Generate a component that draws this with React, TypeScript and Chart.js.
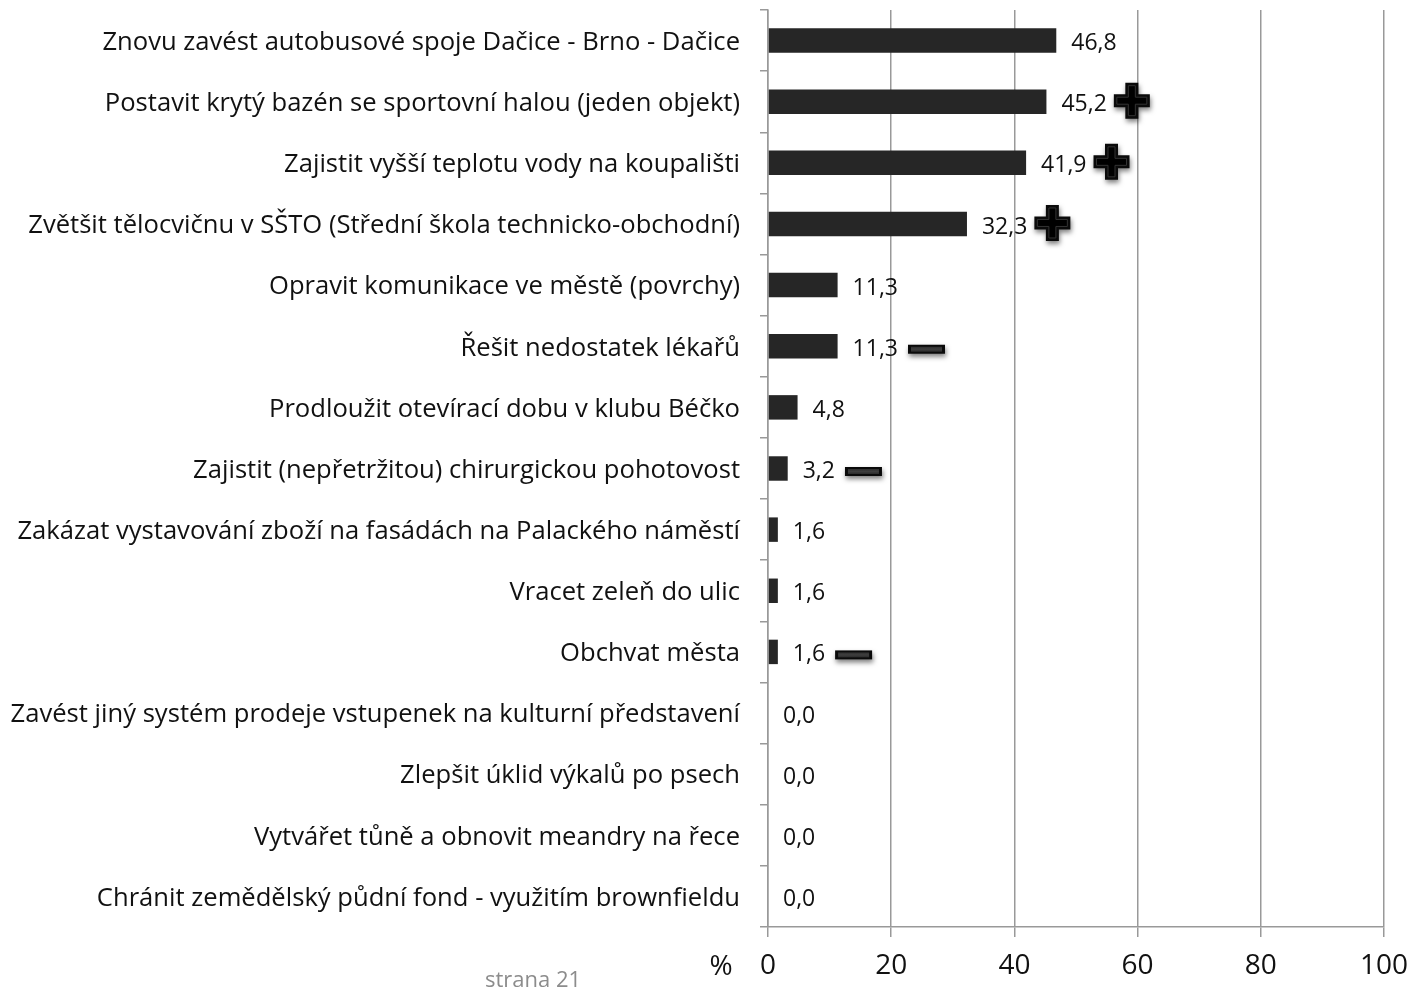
import React, { useEffect, useRef } from "react";
import { Chart, registerables } from "chart.js";

Chart.register(...registerables);

const categories: string[] = [
  "Znovu zavést autobusové spoje Dačice - Brno - Dačice",
  "Postavit krytý bazén se sportovní halou (jeden objekt)",
  "Zajistit vyšší teplotu vody na koupališti",
  "Zvětšit tělocvičnu v SŠTO (Střední škola technicko-obchodní)",
  "Opravit komunikace ve městě (povrchy)",
  "Řešit nedostatek lékařů",
  "Prodloužit otevírací dobu v klubu Béčko",
  "Zajistit (nepřetržitou) chirurgickou pohotovost",
  "Zakázat vystavování zboží na fasádách na Palackého náměstí",
  "Vracet zeleň do ulic",
  "Obchvat města",
  "Zavést jiný systém prodeje vstupenek na kulturní představení",
  "Zlepšit úklid výkalů po psech",
  "Vytvářet tůně a obnovit meandry na řece",
  "Chránit zemědělský půdní fond - využitím brownfieldu",
];

const values: number[] = [46.8, 45.2, 41.9, 32.3, 11.3, 11.3, 4.8, 3.2, 1.6, 1.6, 1.6, 0.0, 0.0, 0.0, 0.0];

const markers: string[] = ["", "+", "+", "+", "", "-", "", "-", "", "", "-", "", "", "", ""];

const xTicks: number[] = [0, 20, 40, 60, 80, 100];

const unitLabel = "%";
const footerText = "strana 21";

const FONT = "'Open Sans', Lato, sans-serif";

function drawPlus(ctx: CanvasRenderingContext2D, left: number, cy: number) {
  const s = 36;
  const a = 13;
  const x0 = left;
  const y0 = cy - s / 2;
  const p = (inset: number) => {
    const o = (s - a) / 2;
    const pts: [number, number][] = [
      [o + inset, inset], [o + a - inset, inset], [o + a - inset, o + inset], [s - inset, o + inset],
      [s - inset, o + a - inset], [o + a - inset, o + a - inset], [o + a - inset, s - inset], [o + inset, s - inset],
      [o + inset, o + a - inset], [inset, o + a - inset], [inset, o + inset], [o + inset, o + inset],
    ];
    ctx.beginPath();
    pts.forEach(([px, py], i) => (i === 0 ? ctx.moveTo(x0 + px, y0 + py) : ctx.lineTo(x0 + px, y0 + py)));
    ctx.closePath();
  };
  ctx.save();
  ctx.shadowColor = "rgba(0,0,0,0.5)";
  ctx.shadowBlur = 5;
  ctx.shadowOffsetX = 1;
  ctx.shadowOffsetY = 3;
  p(0);
  ctx.fillStyle = "#0a0a0a";
  ctx.fill();
  ctx.restore();
  ctx.save();
  p(3);
  ctx.fillStyle = "#000";
  ctx.fill();
  ctx.strokeStyle = "#333";
  ctx.lineWidth = 1;
  ctx.stroke();
  ctx.restore();
}

function drawMinus(ctx: CanvasRenderingContext2D, left: number, cy: number) {
  const w = 37;
  const h = 9;
  const y0 = cy - h / 2;
  ctx.save();
  ctx.shadowColor = "rgba(0,0,0,0.5)";
  ctx.shadowBlur = 5;
  ctx.shadowOffsetX = 1;
  ctx.shadowOffsetY = 3;
  ctx.fillStyle = "#0a0a0a";
  ctx.fillRect(left, y0, w, h);
  ctx.restore();
  ctx.save();
  const g = ctx.createLinearGradient(0, y0, 0, y0 + h);
  g.addColorStop(0, "#222");
  g.addColorStop(0.5, "#3e3e3e");
  g.addColorStop(1, "#1a1a1a");
  ctx.fillStyle = g;
  ctx.fillRect(left + 3, y0 + 2, w - 6, h - 4);
  ctx.restore();
}

const labelsPlugin = {
  id: "valueLabels",
  afterDatasetsDraw(chart: any) {
    const ctx: CanvasRenderingContext2D = chart.ctx;
    const meta = chart.getDatasetMeta(0);
    ctx.save();
    ctx.font = `23px ${FONT}`;
    ctx.fillStyle = "#111";
    ctx.textBaseline = "middle";
    ctx.textAlign = "left";
    meta.data.forEach((bar: any, i: number) => {
      const txt = values[i].toFixed(1).replace(".", ",");
      const x = bar.x + 15;
      ctx.fillText(txt, x, bar.y + 3);
      const w = ctx.measureText(txt).width;
      if (markers[i] === "+") drawPlus(ctx, x + w + 7, bar.y - 1);
      else if (markers[i] === "-") drawMinus(ctx, x + w + 10, bar.y + 3);
    });
    const xs = chart.scales.x;
    ctx.font = `28px ${FONT}`;
    ctx.textAlign = "center";
    ctx.fillStyle = "#111";
    ctx.fillText(unitLabel, xs.left - 47, 967);
    ctx.font = `22px ${FONT}`;
    ctx.fillStyle = "#8c8c8c";
    ctx.textBaseline = "alphabetic";
    ctx.fillText(footerText, 533, 987);
    ctx.restore();
  },
};

export default function App() {
  const ref = useRef<HTMLCanvasElement | null>(null);
  useEffect(() => {
    if (!ref.current) return;
    const chart = new Chart(ref.current, {
      type: "bar",
      data: {
        labels: categories,
        datasets: [
          {
            data: values,
            backgroundColor: "#262626",
            borderWidth: 0,
            barPercentage: 0.4,
            categoryPercentage: 1,
          },
        ],
      },
      options: {
        indexAxis: "y",
        animation: false,
        responsive: true,
        maintainAspectRatio: false,
        layout: { padding: { left: 0, right: 24, top: 10, bottom: 0 } },
        plugins: { legend: { display: false }, tooltip: { enabled: false } },
        scales: {
          x: {
            min: 0,
            max: 100,
            afterBuildTicks: (scale: any) => {
              scale.ticks = xTicks.map((v) => ({ value: v }));
            },
            afterFit: (scale: any) => {
              scale.height = 61;
              scale.paddingLeft = 0;
              scale.paddingRight = 0;
            },
            grid: { color: "#999999", lineWidth: 1.5, tickLength: 10, drawTicks: true },
            border: { display: true, color: "#999999", width: 1.5 },
            ticks: {
              font: { family: FONT, size: 28 },
              color: "#111",
              padding: 12,
            },
          },
          y: {
            afterFit: (scale: any) => {
              scale.width = 768;
              scale.paddingTop = 0;
              scale.paddingBottom = 0;
            },
            grid: { drawOnChartArea: false, drawTicks: true, tickLength: 8, color: "#999999", lineWidth: 1.5 },
            border: { display: true, color: "#999999", width: 1.5 },
            ticks: {
              font: { family: FONT, size: 25.6 },
              color: "#111",
              padding: 20,
              labelOffset: 2,
              autoSkip: false,
            },
          },
        },
      },
      plugins: [labelsPlugin],
    });
    return () => chart.destroy();
  }, []);
  return (
    <div style={{ position: "absolute", left: 0, top: 0, width: 1408, height: 988, background: "#fff" }}>
      <canvas ref={ref} />
    </div>
  );
}
